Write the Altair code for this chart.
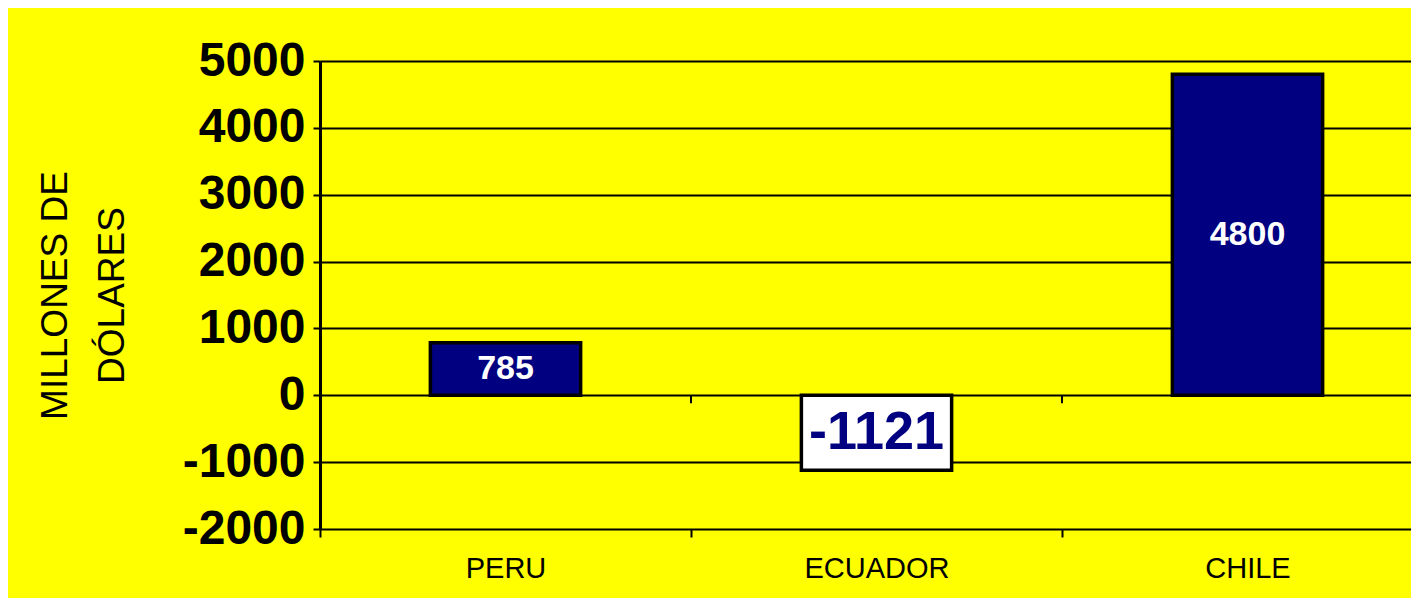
import altair as alt
import pandas as pd

countries = ["PERU", "ECUADOR", "CHILE"]
values = [785, -1121, 4800]
y_ticks = [-2000, -1000, 0, 1000, 2000, 3000, 4000, 5000]

df = pd.DataFrame({"pais": countries, "valor": values})

FONT = "Liberation Sans"
NAVY = "#000080"

x_enc = alt.X(
    "pais:N",
    sort=countries,
    scale=alt.Scale(paddingInner=0, paddingOuter=0, range=[0, 1113]),
    axis=alt.Axis(
        title=None,
        domain=False,
        tickBand="extent",
        tickColor="black",
        tickSize=8,
        tickWidth=2,
        labelFont=FONT,
        labelFontSize=29,
        labelColor="black",
        labelPadding=17,
        labelAngle=0,
    ),
)

y_enc = alt.Y(
    "valor:Q",
    scale=alt.Scale(domain=[-2000, 5000], nice=False, zero=False),
    axis=alt.Axis(
        values=y_ticks,
        labelExpr="toString(datum.value)",
        title=["MILLONES DE", "DÓLARES"],
        titleFont=FONT,
        titleFontSize=37,
        titleFontWeight="normal",
        titleColor="black",
        titleAngle=-90,
        titleBaseline="top",
        titleX=-283,
        titleY=234,
        titleLineHeight=57,
        grid=True,
        gridColor="black",
        gridWidth=2,
        gridOpacity=1,
        domain=True,
        domainColor="black",
        domainWidth=3,
        tickColor="black",
        tickSize=7,
        tickWidth=2,
        labelFont=FONT,
        labelFontSize=48,
        labelFontWeight="bold",
        labelColor="black",
        labelPadding=8,
    ),
)

bars = alt.Chart(df).mark_bar(
    stroke="black", strokeWidth=3.5, width=alt.RelativeBandSize(0.405)
).encode(
    x=x_enc,
    y=y_enc,
    y2=alt.datum(0),
    color=alt.condition("datum.valor < 0", alt.value("white"), alt.value(NAVY)),
)

zero_ticks = alt.Chart(df).mark_tick(
    orient="vertical", size=8, thickness=2, color="black", opacity=1, yOffset=4
).encode(
    x=alt.X("pais:N", sort=countries, bandPosition=0),
    y=alt.datum(0),
)

labels = alt.Chart(df).transform_calculate(
    mid="datum.valor / 2", txt="toString(datum.valor)"
).mark_text(font=FONT, fontWeight="bold", baseline="middle", align="center").encode(
    x=alt.X("pais:N", sort=countries),
    y=alt.Y("mid:Q"),
    text=alt.Text("txt:N"),
    color=alt.condition("datum.valor < 0", alt.value(NAVY), alt.value("white")),
    size=alt.condition("datum.valor < 0", alt.value(54), alt.value(34)),
)

chart = (
    alt.layer(bars, zero_ticks, labels)
    .properties(
        width=1091,
        height=468,
        background="#FFFF00",
        autosize=alt.AutoSizeParams(type="none"),
        padding={"left": 312, "top": 53, "right": 0, "bottom": 69},
    )
    .configure_view(stroke=None)
)

chart.save("out.html", embed_options={"renderer": "svg", "actions": False})
